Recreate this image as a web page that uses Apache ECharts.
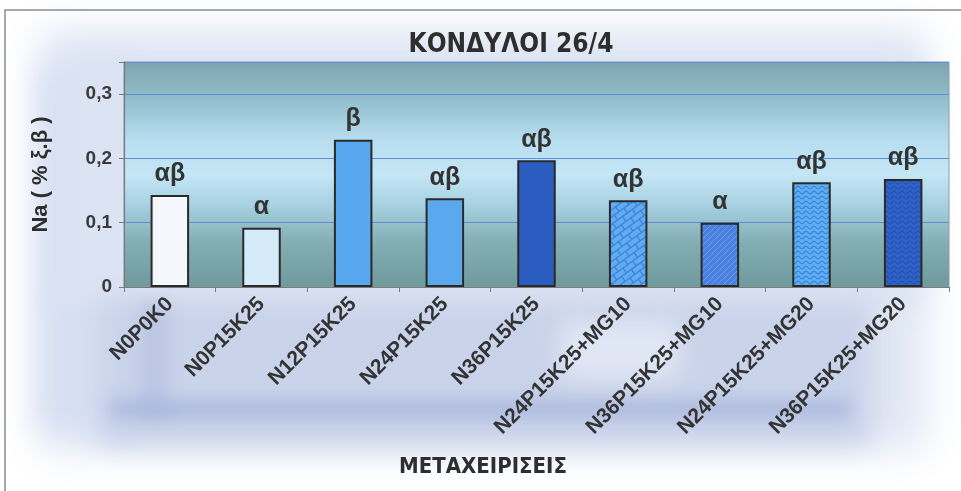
<!DOCTYPE html>
<html>
<head>
<meta charset="utf-8">
<script src="https://cdn.jsdelivr.net/npm/echarts@6/dist/echarts.min.js"></script>
<style>
  html, body { margin: 0; padding: 0; background: #ffffff; }
  #chart { width: 961px; height: 491px; }
</style>
</head>
<body>
<div id="chart"></div>
<script>
// Treatments on the x axis
const categories = [
  'N0P0K0', 'N0P15K25', 'N12P15K25', 'N24P15K25', 'N36P15K25',
  'N24P15K25+MG10', 'N36P15K25+MG10', 'N24P15K25+MG20', 'N36P15K25+MG20'
];
// Na content of tubers (% dry weight)
const naValues = [0.143, 0.092, 0.229, 0.138, 0.197, 0.135, 0.100, 0.163, 0.168];
// Significance groups shown above each bar
const groupLetters = ['αβ', 'α', 'β', 'αβ', 'αβ', 'αβ', 'α', 'αβ', 'αβ'];
// Y axis tick values and their labels
const yTickValues = [0, 0.1, 0.2, 0.3];
const yTickLabels = ['0', '0,1', '0,2', '0,3'];

const chartTitle = 'ΚΟΝΔΥΛΟΙ 26/4';
const xAxisTitle = 'ΜΕΤΑΧΕΙΡΙΣΕΙΣ';
const yAxisTitle = 'Na ( % ξ.β )';

const W = 961, H = 491;
const narrow = "'Liberation Sans Narrow', 'DejaVu Sans Condensed', 'Liberation Sans', sans-serif";
const sans = "'Liberation Sans', Arial, 'DejaVu Sans', sans-serif";

// ---- fill patterns for the MG treatments ----
function makeCanvas(w, h) {
  const c = document.createElement('canvas');
  c.width = w; c.height = h;
  return c;
}

// diagonal brick texture (drawn over the whole page area so it never seams)
function brickPattern(base, line) {
  const c = makeCanvas(W, H);
  const g = c.getContext('2d');
  g.fillStyle = base;
  g.fillRect(0, 0, W, H);
  g.save();
  g.translate(W / 2, H / 2);
  g.rotate(-Math.PI / 5);
  g.strokeStyle = line;
  g.lineWidth = 1.3;
  const bw = 12, bh = 6, span = 1200;
  for (let r = -span / bh; r < span / bh; r++) {
    const y = r * bh;
    g.beginPath(); g.moveTo(-span, y); g.lineTo(span, y); g.stroke();
    const off = (r % 2 === 0) ? 0 : bw / 2;
    for (let x = -span + off; x < span; x += bw) {
      g.beginPath(); g.moveTo(x, y); g.lineTo(x, y + bh); g.stroke();
    }
  }
  g.restore();
  return c;
}

// fine diagonal lattice texture
function latticePattern(base, line) {
  const s = 6;
  const c = makeCanvas(s, s);
  const g = c.getContext('2d');
  g.fillStyle = base;
  g.fillRect(0, 0, s, s);
  g.strokeStyle = line;
  g.lineWidth = 1;
  g.beginPath();
  g.moveTo(0, s); g.lineTo(s, 0);
  g.moveTo(-1, 1); g.lineTo(1, -1);
  g.moveTo(s - 1, s + 1); g.lineTo(s + 1, s - 1);
  g.stroke();
  return c;
}

// horizontal wavy texture
function wavePattern(base, line) {
  const w = 8, h = 5;
  const c = makeCanvas(w, h);
  const g = c.getContext('2d');
  g.fillStyle = base;
  g.fillRect(0, 0, w, h);
  g.strokeStyle = line;
  g.lineWidth = 1.2;
  g.beginPath();
  for (let x = 0; x <= w; x += 0.5) {
    const y = 2.5 + 1.3 * Math.sin((x / w) * Math.PI * 2);
    if (x === 0) g.moveTo(x, y); else g.lineTo(x, y);
  }
  g.stroke();
  return c;
}

const barFills = [
  '#f4f8fd',
  '#d6ebfa',
  '#58a8ef',
  '#5aa9ef',
  '#2b5cc0',
  { image: brickPattern('#5eacf1', '#4282d8'), repeat: 'repeat' },
  { image: latticePattern('#4a80e0', '#6b9cec'), repeat: 'repeat' },
  { image: wavePattern('#5eaef2', '#3b86de'), repeat: 'repeat' },
  { image: wavePattern('#2f62c8', '#2453b3'), repeat: 'repeat' }
];

// a soft blurred patch: the rect itself is moved off-page, only its shadow lands
const SHIFT = 4000;
function haze(x, y, w, h, color, blur, z) {
  return {
    type: 'rect', z: z, silent: true,
    shape: { x: x - SHIFT, y: y, width: w, height: h },
    style: { fill: color, shadowColor: color, shadowBlur: blur, shadowOffsetX: SHIFT, shadowOffsetY: 0 }
  };
}

const chart = echarts.init(document.getElementById('chart'), null, { renderer: 'canvas' });

const plotBg = new echarts.graphic.LinearGradient(0, 0, 0, 1, [
  { offset: 0.00, color: '#7ea3ad' },
  { offset: 0.18, color: '#94c0d0' },
  { offset: 0.35, color: '#b8def0' },
  { offset: 0.50, color: '#c4e6f5' },
  { offset: 0.64, color: '#a6d0e0' },
  { offset: 0.80, color: '#83aeb4' },
  { offset: 1.00, color: '#6f9a9c' }
]);

chart.setOption({
  animation: false,
  backgroundColor: '#ffffff',
  title: {
    text: chartTitle,
    left: 506,
    top: 27,
    textAlign: 'center',
    textStyle: { fontFamily: narrow, fontWeight: 'bold', fontSize: 26, color: '#2e2e2e' }
  },
  graphic: [
    // soft blue backdrop behind the chart
    haze(40, 30, 885, 420, '#dfe6f4', 40, -30),
    haze(40, 70, 90, 360, '#d6dff2', 30, -29),
    haze(60, 55, 860, 250, '#dce4f3', 30, -29),
    haze(100, 300, 770, 145, '#c9d3ea', 24, -28),
    haze(110, 400, 740, 18, 'rgba(160,174,216,0.8)', 16, -27),
    haze(140, 300, 28, 120, 'rgba(165,178,218,0.6)', 14, -27),
    haze(560, 320, 120, 60, 'rgba(238,242,250,0.8)', 24, -27),
    // page frame
    {
      type: 'polyline', z: -10, silent: true,
      shape: { points: [[5, 491], [5, 10], [961, 10]] },
      style: { stroke: '#8c8c8c', lineWidth: 1.5, fill: null }
    },
    // x axis title
    {
      type: 'text', z: 10,
      x: 483, y: 467,
      style: {
        text: xAxisTitle, align: 'center', verticalAlign: 'middle',
        font: 'bold 22px ' + narrow, fill: '#2e2e2e'
      }
    }
  ],
  grid: {
    left: 124, right: 12, top: 62, bottom: 204,
    show: true,
    backgroundColor: plotBg,
    borderColor: '#8a9ca4',
    borderWidth: 1
  },
  xAxis: {
    type: 'category',
    data: categories,
    axisLine: { show: true, lineStyle: { color: '#7a7a7a', width: 1.2 } },
    axisTick: { show: true, interval: 0, length: 5, lineStyle: { color: '#7a7a7a' } },
    axisLabel: {
      interval: 0, rotate: 45, margin: 14,
      fontFamily: sans, fontWeight: 'bold', fontSize: 21, color: '#333333'
    },
    splitLine: { show: false }
  },
  yAxis: {
    type: 'value',
    min: 0, max: 0.35, interval: 0.1,
    name: yAxisTitle,
    nameLocation: 'middle',
    nameRotate: 90,
    nameGap: 72,
    nameTextStyle: { fontFamily: sans, fontWeight: 'bold', fontSize: 22, color: '#2e2e2e' },
    axisLine: { show: true, lineStyle: { color: '#7a7a7a', width: 1.2 } },
    axisTick: { show: true, length: 5, lineStyle: { color: '#7a7a7a' } },
    axisLabel: {
      margin: 12,
      fontFamily: sans, fontWeight: 'bold', fontSize: 19, color: '#3a3a3a',
      formatter: function (v) {
        const i = yTickValues.findIndex(t => Math.abs(t - v) < 1e-9);
        return i >= 0 ? yTickLabels[i] : '';
      }
    },
    splitLine: {
      show: true,
      lineStyle: { color: '#5b8fd2', width: 1 }
    }
  },
  series: [{
    type: 'bar',
    barWidth: '42%',
    data: naValues.map((v, i) => ({
      value: v,
      itemStyle: { color: barFills[i] }
    })),
    itemStyle: { borderColor: '#2a2a2a', borderWidth: 2 },
    label: {
      show: true,
      position: 'top',
      distance: 8,
      fontFamily: sans, fontWeight: 'bold', fontSize: 25, color: '#333333',
      formatter: p => groupLetters[p.dataIndex]
    }
  }]
});
</script>
</body>
</html>
